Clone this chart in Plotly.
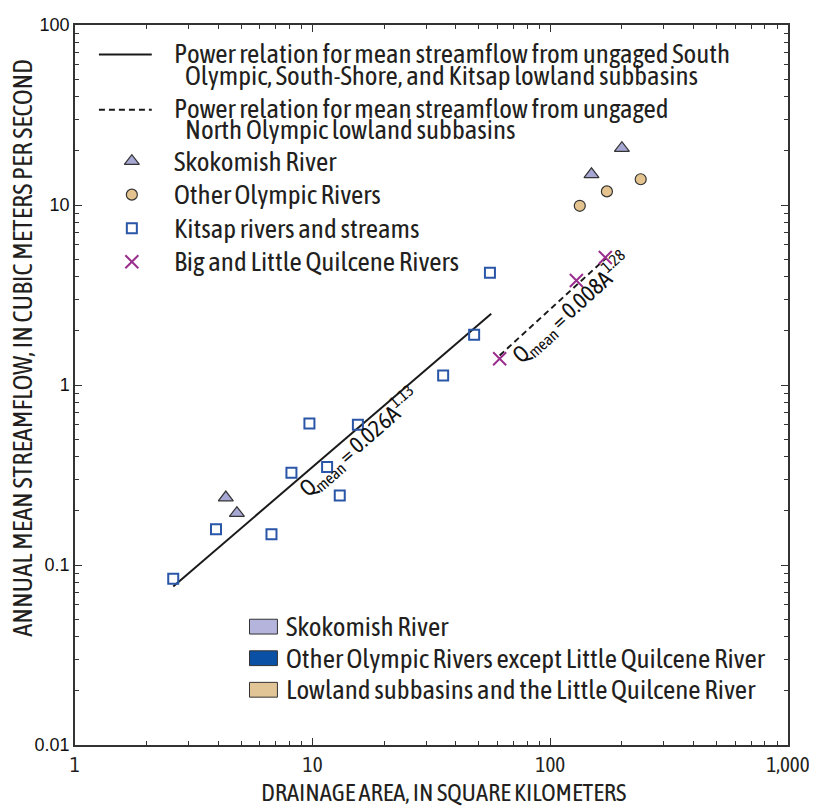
import plotly.graph_objects as go

# ---------------- data ----------------
kitsap_area = [2.59, 3.92, 6.71, 8.14, 9.69, 11.5, 13.0, 15.5, 35.4, 47.8, 55.7]
kitsap_flow = [0.084, 0.158, 0.148, 0.325, 0.611, 0.350, 0.243, 0.601, 1.13, 1.90, 4.21]
skok_area = [4.31, 4.80, 149, 200]
skok_flow = [0.237, 0.194, 14.8, 20.7]
olympic_area = [133, 173, 240]
olympic_flow = [9.9, 11.9, 13.9]
quil_area = [61.2, 128.7, 170.3]
quil_flow = [1.40, 3.81, 5.11]
south_line_area = [2.59, 56.4]
south_line_flow = [0.076, 2.49]
north_line_area = [61.2, 171]
north_line_flow = [1.46, 5.05]

x_tickvals = [1, 10, 100, 1000]
x_ticktext = ["1", "10", "100", "1,000"]
y_tickvals = [0.01, 0.1, 1, 10, 100]
y_ticktext = ["0.01", "0.1", "1", "10", "100"]

legend_top = [
    "Power relation for mean streamflow from ungaged South",
    "Olympic, South-Shore, and Kitsap lowland subbasins",
    "Power relation for mean streamflow from ungaged",
    "North Olympic lowland subbasins",
    "Skokomish River",
    "Other Olympic Rivers",
    "Kitsap rivers and streams",
    "Big and Little Quilcene Rivers",
]
legend_bottom = [
    "Skokomish River",
    "Other Olympic Rivers except Little Quilcene River",
    "Lowland subbasins and the Little Quilcene River",
]
legend_bottom_colors = ["#b4b4dc", "#0a50a5", "#e2c596"]

# ---------------- styles ----------------
COND = "Asap Condensed, Roboto, sans-serif"
TXT = "#231f20"
SKOK = dict(symbol="triangle-up", size=13, color="#a7a7d3", line=dict(color="#333333", width=1.2))
OLY = dict(symbol="circle", size=11, color="#e4c38f", line=dict(color="#333333", width=1.2))
KIT = dict(symbol="square-open", size=10, color="#2a56a8", line=dict(width=2))
QUI = dict(symbol="x-thin-open", size=13, color="#9a2e8e", line=dict(width=2, color="#9a2e8e"))

# page layout (the figure sits 8 px in from the page corner)
OFF = 8
L, R, T, B = 75, 790, 15, 745
W, H = 817 - OFF, 806 - OFF
def fx(px):
    return (px - L) / (R - L)
def fy(py):
    return (B - py) / (B - T)

fig = go.Figure()
fig.add_trace(go.Scatter(x=south_line_area, y=south_line_flow, mode="lines",
                         line=dict(color="#1a1a1a", width=2), showlegend=False))
fig.add_trace(go.Scatter(x=north_line_area, y=north_line_flow, mode="lines",
                         line=dict(color="#1a1a1a", width=2, dash="6px,4px"), showlegend=False))
fig.add_trace(go.Scatter(x=kitsap_area, y=kitsap_flow, mode="markers", marker=KIT, showlegend=False))
fig.add_trace(go.Scatter(x=skok_area, y=skok_flow, mode="markers", marker=SKOK, showlegend=False))
fig.add_trace(go.Scatter(x=olympic_area, y=olympic_flow, mode="markers", marker=OLY, showlegend=False))
fig.add_trace(go.Scatter(x=quil_area, y=quil_flow, mode="markers", marker=QUI, showlegend=False))

# legend key markers on an overlay axis spanning the plot area (0..1)
key_x = fx(132)
for st, py in [(SKOK, 153), (OLY, 187), (KIT, 221), (QUI, 255)]:
    fig.add_trace(go.Scatter(x=[key_x], y=[fy(py)], mode="markers", marker=st,
                             xaxis="x2", yaxis="y2", showlegend=False, hoverinfo="skip"))

shapes = [
    dict(type="line", xref="paper", yref="paper", x0=fx(99), x1=fx(152), y0=fy(45), y1=fy(45),
         line=dict(color="#1a1a1a", width=2)),
    dict(type="line", xref="paper", yref="paper", x0=fx(99), x1=fx(152), y0=fy(101), y1=fy(101),
         line=dict(color="#1a1a1a", width=2, dash="6px,4px")),
]
for i, c in enumerate(legend_bottom_colors):
    yc = 625 + 32 * i
    shapes.append(dict(type="rect", xref="paper", yref="paper", x0=fx(250), x1=fx(278),
                       y0=fy(yc - 7.5), y1=fy(yc + 7.5), fillcolor=c,
                       line=dict(color="#333333", width=1)))

LEG = 27
ann = []
top_pos = [(172, 44), (183, 66), (172, 100), (183, 121), (172, 153), (172, 187), (172, 221), (172, 255)]
for t, (px, py) in zip(legend_top, top_pos):
    ann.append(dict(text=t, xref="paper", yref="paper", x=fx(px), y=fy(py), xanchor="left",
                    yanchor="middle", showarrow=False, font=dict(family=COND, size=LEG, color=TXT)))
for i, t in enumerate(legend_bottom):
    ann.append(dict(text=t, xref="paper", yref="paper", x=fx(285), y=fy(625 + 32 * i), xanchor="left",
                    yanchor="middle", showarrow=False, font=dict(family=COND, size=LEG, color=TXT)))

# equations
ann.append(dict(text="Q<sub>mean</sub> = 0.026A<sup>1.13</sup>", xref="x", yref="y", x=1.195, y=-0.318,
                textangle=-41, showarrow=False, font=dict(family=COND, size=23, color="#111")))
ann.append(dict(text="Q<sub>mean</sub> = 0.008A<sup>1.28</sup>", xref="x", yref="y", x=2.085, y=0.43,
                textangle=-42, showarrow=False, font=dict(family=COND, size=23, color="#111")))

# axis titles
ann.append(dict(text="DRAINAGE AREA, IN SQUARE KILOMETERS", xref="paper", yref="paper",
                x=fx(445), y=fy(793), showarrow=False, xanchor="center", yanchor="middle",
                font=dict(family=COND, size=24.5, color=TXT)))
ann.append(dict(text="ANNUAL MEAN STREAMFLOW, IN CUBIC METERS PER SECOND", xref="paper", yref="paper",
                x=fx(22), y=fy(342), showarrow=False, xanchor="center", yanchor="middle", textangle=-90,
                font=dict(family=COND, size=26.5, color=TXT)))

minor_x = [m * 10 ** e for e in range(0, 3) for m in range(2, 10)]
minor_y = [m * 10.0 ** e for e in range(-2, 2) for m in range(2, 10)]

axis_common = dict(type="log", showgrid=False, zeroline=False, showline=True, linecolor="#333333",
                   linewidth=1.5, ticks="inside", ticklen=7, tickwidth=1, tickcolor="#333333",
                   mirror="ticks", ticklabeloverflow="allow")
fig.update_layout(
    width=W, height=H, plot_bgcolor="white", paper_bgcolor="white",
    margin=dict(l=L - OFF, r=W - (R - OFF), t=T - OFF, b=H - (B - OFF)),
    showlegend=False,
    xaxis=dict(axis_common, range=[0, 3], tickmode="array", tickvals=x_tickvals, ticktext=x_ticktext,
               tickfont=dict(family=COND, size=21, color=TXT),
               minor=dict(tickmode="array", tickvals=minor_x, ticks="inside", ticklen=4,
                          tickcolor="#333333", showgrid=False)),
    yaxis=dict(axis_common, range=[-2, 2], tickmode="array", tickvals=y_tickvals, ticktext=y_ticktext,
               tickfont=dict(family="Liberation Sans, Arial, sans-serif", size=18, color="#111"),
               minor=dict(tickmode="array", tickvals=minor_y, ticks="inside", ticklen=4,
                          tickcolor="#333333", showgrid=False)),
    xaxis2=dict(overlaying="x", range=[0, 1], visible=False, fixedrange=True),
    yaxis2=dict(overlaying="y", range=[0, 1], visible=False, fixedrange=True),
    shapes=shapes, annotations=ann,
)
fig.write_html("out.html")
